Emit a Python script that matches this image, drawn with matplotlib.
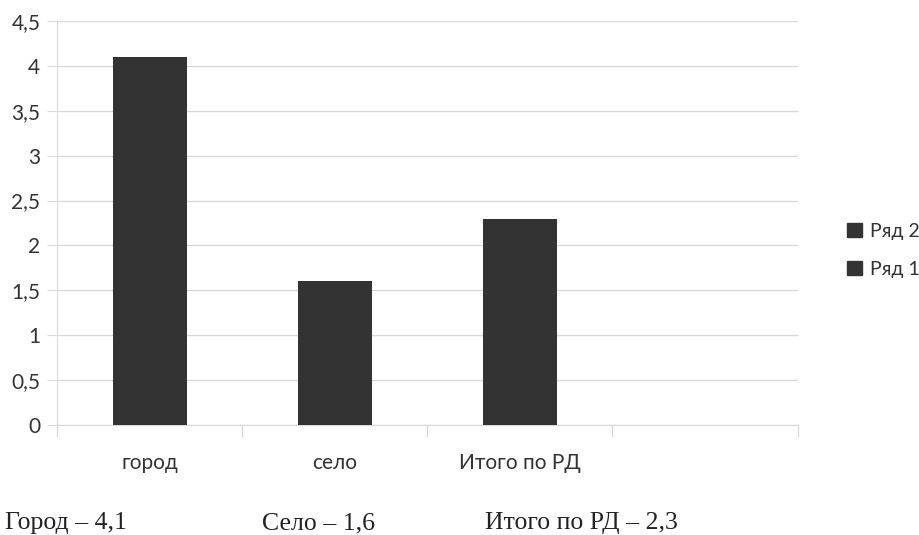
"""
Bar chart: city / village / Republic total
"""

import numpy as np
from matplotlib import pyplot as plt
from matplotlib.patches import Patch

categories = ["город", "село", "Итого по РД", ""]
series1 = [4.1, 1.6, 2.3, np.nan]
series2 = [0, 0, 0, 0]
yticks = [0, 0.5, 1, 1.5, 2, 2.5, 3, 3.5, 4, 4.5]
footnotes = ["Город – 4,1", "Село – 1,6", "Итого по РД – 2,3"]

barColor = "#333333"
gridColor = "#d9d9d9"
textColor = "#333333"

fig = plt.figure(figsize=(9.2, 5.35), dpi=100)
ax = fig.add_axes([0.062, 0.2056, 0.805, 0.7551])

xs = np.arange(len(categories))
ax.bar(xs, series1, width=0.4, color=barColor, zorder=3)
ax.bar(xs, series2, width=0.4, bottom=np.nan_to_num(series1), color=barColor, zorder=3)

ax.set_xlim(-0.5, len(categories) - 0.5)
ax.set_ylim(0, 4.5)
ax.set_yticks(yticks)
ax.set_yticklabels([f"{t:g}".replace(".", ",") for t in yticks],
                   fontsize=15, color=textColor, family="Lato")
ax.yaxis.grid(True, color=gridColor, linewidth=1.0, zorder=0)
ax.tick_params(axis="y", length=7, color=gridColor, pad=5)

# category labels centred, separator ticks on the boundaries
ax.set_xticks(xs)
ax.set_xticklabels(categories, fontsize=15, color=textColor, family="Lato")
ax.tick_params(axis="x", length=0, pad=20)
for b in np.arange(len(categories) + 1) - 0.5:
    ax.plot([b, b], [0, -0.12], color=gridColor, linewidth=1.0, clip_on=False)

for side in ["top", "right"]:
    ax.spines[side].set_visible(False)
ax.spines["left"].set_color(gridColor)
ax.spines["bottom"].set_color(gridColor)

handles = [Patch(color=barColor, label="Ряд 2"), Patch(color=barColor, label="Ряд 1")]
fig.legend(handles=handles, loc="center left", bbox_to_anchor=(0.921, 0.532),
           frameon=False, handlelength=0.75, handleheight=0.75,
           handletextpad=0.4, labelspacing=1.1, labelcolor=textColor,
           borderpad=0, borderaxespad=0,
           prop={"family": "Lato", "size": 14})

for x, txt in zip([0.005, 0.285, 0.527], footnotes):
    fig.text(x, 0.011, txt, fontsize=18.5, family="Liberation Serif",
             color="#222222", ha="left", va="baseline")

plt.savefig("out.png", dpi=100)
